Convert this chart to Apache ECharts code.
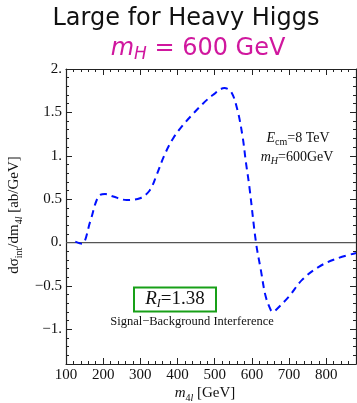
<!DOCTYPE html>
<html>
<head>
<meta charset="utf-8">
<script src="https://cdn.jsdelivr.net/npm/echarts@6/dist/echarts.min.js"></script>
<style>html,body{margin:0;padding:0;background:#fff;}#c{width:357px;height:403px;}</style>
</head>
<body>
<div id="c"></div>
<script>
// data
var m4l = [125, 143, 165, 187, 205, 227, 263, 299, 325, 343, 365, 388, 414, 441, 468, 495, 526, 544, 561, 575, 584, 593, 611, 624, 637, 651, 657, 664, 700, 735, 780, 825, 880];
var dsig = [0.01, -0.015, 0.24, 0.53, 0.56, 0.53, 0.49, 0.51, 0.60, 0.77, 1.01, 1.20, 1.35, 1.48, 1.60, 1.70, 1.78, 1.74, 1.53, 1.22, 0.92, 0.65, 0.0, -0.315, -0.62, -0.78, -0.80, -0.78, -0.62, -0.43, -0.28, -0.19, -0.12];
var xTicks = [100, 200, 300, 400, 500, 600, 700, 800];
var yTicks = [-1, -0.5, 0, 0.5, 1, 1.5, 2];
var yTickLabels = ['\u22121.', '\u22120.5', '0.', '0.5', '1.', '1.5', '2.'];
var zeroLineX = [100, 880];

var chart = echarts.init(document.getElementById('c'), null, {renderer: 'canvas'});
var serif = '"Liberation Serif", "Times New Roman", serif';
var sans = '"DejaVu Sans", sans-serif';
var frame = '#222';

function xAxisDef(pos, major, labels) {
  return {
    type: 'value', min: 100, max: 880, position: pos,
    interval: major ? 100 : 20,
    axisLine: {show: major, onZero: false, lineStyle: {color: frame, width: 1.2}},
    axisTick: major ? {show: true, inside: true, length: 6, customValues: xTicks, lineStyle: {color: frame, width: 1}}
                    : {show: true, inside: true, length: 3, lineStyle: {color: frame, width: 1}},
    axisLabel: labels ? {show: true, customValues: xTicks, fontFamily: serif, fontSize: 15, color: '#111', margin: 4} : {show: false},
    splitLine: {show: false}
  };
}
function yAxisDef(pos, major, labels) {
  return {
    type: 'value', min: -1.4, max: 2, position: pos,
    interval: 0.1,
    axisLine: {show: major, onZero: false, lineStyle: {color: frame, width: 1.2}},
    axisTick: major ? {show: true, inside: true, length: 6, customValues: yTicks, lineStyle: {color: frame, width: 1}}
                    : {show: true, inside: true, length: 3, lineStyle: {color: frame, width: 1}},
    axisLabel: labels ? {show: true, customValues: yTicks, fontFamily: serif, fontSize: 15, color: '#111', margin: 4,
      formatter: function (v) { var i = yTicks.indexOf(Math.round(v * 10) / 10); return i >= 0 ? yTickLabels[i] : ''; }} : {show: false},
    splitLine: {show: false}
  };
}

var option = {
  animation: false,
  backgroundColor: '#fff',
  grid: {left: 66, right: 1, top: 69, bottom: 39, containLabel: false},
  xAxis: [xAxisDef('bottom', true, true), xAxisDef('bottom', false, false), xAxisDef('top', true, false), xAxisDef('top', false, false)],
  yAxis: [yAxisDef('left', true, true), yAxisDef('left', false, false), yAxisDef('right', true, false), yAxisDef('right', false, false)],
  series: [
    {
      type: 'line', xAxisIndex: 0, yAxisIndex: 0, symbol: 'none', silent: true,
      data: zeroLineX.map(function (x) { return [x, 0]; }),
      lineStyle: {color: '#555', width: 1.3}
    },
    {
      type: 'line', xAxisIndex: 0, yAxisIndex: 0, symbol: 'none', smooth: 0.35,
      data: m4l.map(function (x, i) { return [x, dsig[i]]; }),
      lineStyle: {color: '#0010ff', width: 2, type: [7, 5]}
    }
  ],
  graphic: [
    {type: 'text', x: 186, y: 19, style: {text: 'Large for Heavy Higgs', font: '24px ' + sans, fill: '#111', align: 'center', verticalAlign: 'middle'}},
    {type: 'text', x: 198, y: 49, style: {
      text: '{i|m}{s|H}{n| = 600 GeV}', align: 'center', verticalAlign: 'middle',
      rich: {
        i: {font: 'oblique 24px ' + sans, fill: '#d0179e', lineHeight: 28, verticalAlign: 'middle'},
        s: {font: 'oblique 17px ' + sans, fill: '#d0179e', lineHeight: 20, verticalAlign: 'bottom'},
        n: {font: '24px ' + sans, fill: '#d0179e', lineHeight: 28, verticalAlign: 'middle'}
      }}},
    {type: 'text', x: 14, y: 215, rotation: Math.PI / 2, style: {
      text: '{n|d\u03c3}{s|int}{n|/dm}{s|4}{si|l}{n| [ab/GeV]}', align: 'center', verticalAlign: 'middle',
      rich: {
        n: {font: '15px ' + serif, fill: '#111', lineHeight: 20, verticalAlign: 'middle'},
        s: {font: '10px ' + serif, fill: '#111', lineHeight: 12, verticalAlign: 'bottom'},
        si: {font: 'italic 10px ' + serif, fill: '#111', lineHeight: 12, verticalAlign: 'bottom'}
      }}},
    {type: 'text', x: 205, y: 393, style: {
      text: '{i|m}{s|4}{si|l}{n| [GeV]}', align: 'center', verticalAlign: 'middle',
      rich: {
        i: {font: 'italic 15px ' + serif, fill: '#111', lineHeight: 20, verticalAlign: 'middle'},
        n: {font: '15px ' + serif, fill: '#111', lineHeight: 20, verticalAlign: 'middle'},
        s: {font: '10px ' + serif, fill: '#111', lineHeight: 12, verticalAlign: 'bottom'},
        si: {font: 'italic 10px ' + serif, fill: '#111', lineHeight: 12, verticalAlign: 'bottom'}
      }}},
    {type: 'text', x: 298, y: 138, style: {
      text: '{i|E}{s|cm}{n|=8 TeV}', align: 'center', verticalAlign: 'middle',
      rich: {
        i: {font: 'italic 14px ' + serif, fill: '#111', lineHeight: 18, verticalAlign: 'middle'},
        n: {font: '14px ' + serif, fill: '#111', lineHeight: 18, verticalAlign: 'middle'},
        s: {font: '10px ' + serif, fill: '#111', lineHeight: 11, verticalAlign: 'bottom'}
      }}},
    {type: 'text', x: 297, y: 157, style: {
      text: '{i|m}{si|H}{n|=600GeV}', align: 'center', verticalAlign: 'middle',
      rich: {
        i: {font: 'italic 14px ' + serif, fill: '#111', lineHeight: 18, verticalAlign: 'middle'},
        n: {font: '14px ' + serif, fill: '#111', lineHeight: 18, verticalAlign: 'middle'},
        si: {font: 'italic 10px ' + serif, fill: '#111', lineHeight: 11, verticalAlign: 'bottom'}
      }}},
    {type: 'rect', shape: {x: 134, y: 287.5, width: 82, height: 24}, style: {fill: '#fff', stroke: '#18a018', lineWidth: 2}},
    {type: 'text', x: 175, y: 299, style: {
      text: '{i|R}{si|I}{n|=1.38}', align: 'center', verticalAlign: 'middle',
      rich: {
        i: {font: 'italic 19px ' + serif, fill: '#111', lineHeight: 22, verticalAlign: 'middle'},
        n: {font: '19px ' + serif, fill: '#111', lineHeight: 22, verticalAlign: 'middle'},
        si: {font: 'italic 12px ' + serif, fill: '#111', lineHeight: 13, verticalAlign: 'bottom'}
      }}},
    {type: 'text', x: 192, y: 322, style: {text: 'Signal\u2212Background Interference', font: '12.5px ' + serif, fill: '#111', align: 'center', verticalAlign: 'middle'}}
  ]
};
chart.setOption(option);
</script>
</body>
</html>
